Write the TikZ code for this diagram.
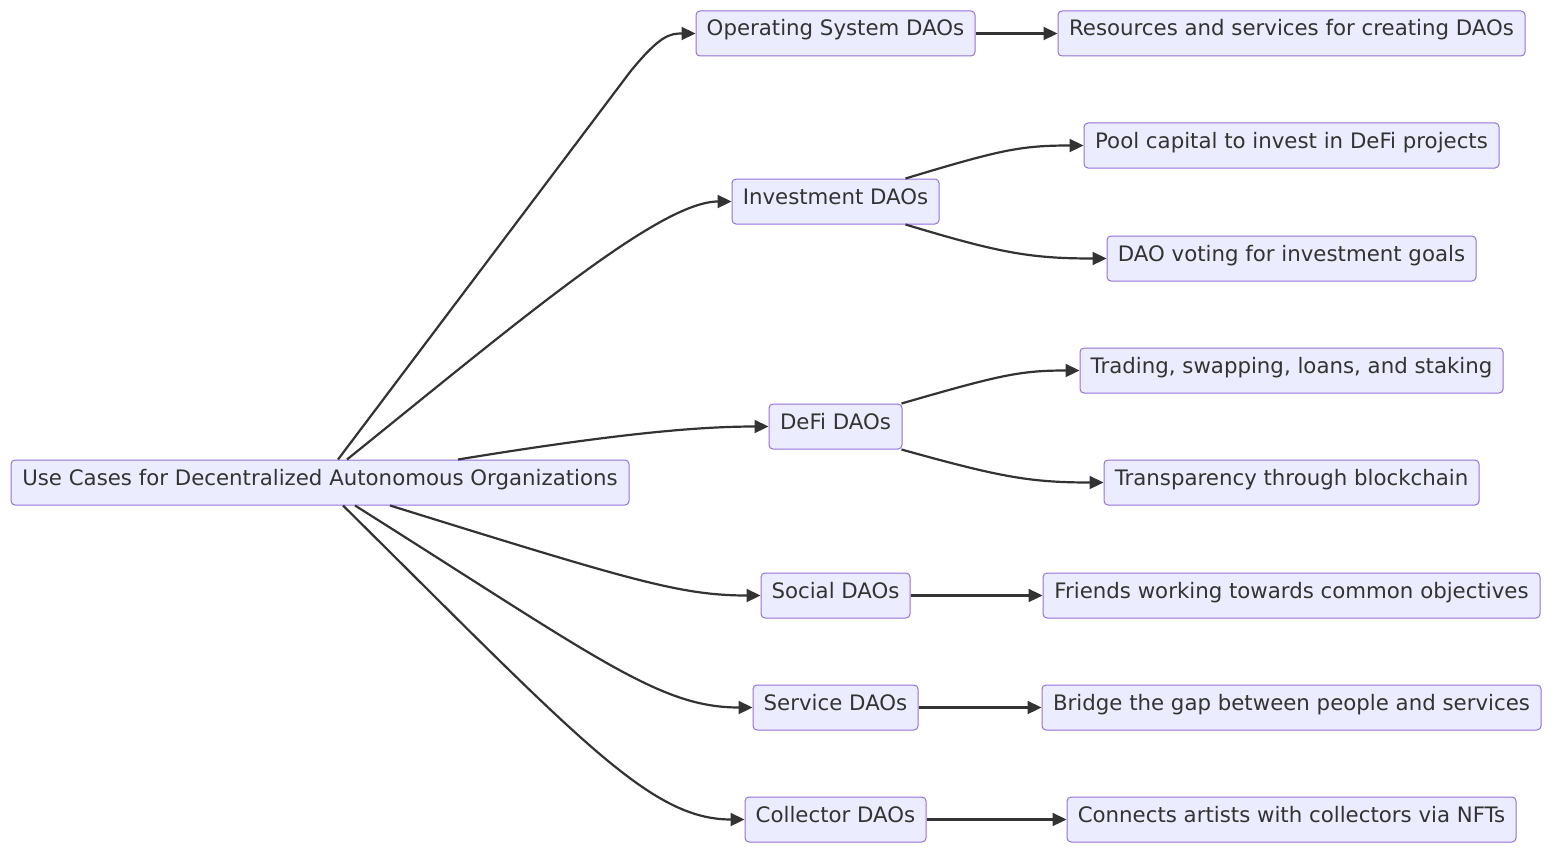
\documentclass[tikz,border=0pt]{standalone}
\usepackage{fontspec}
\setmainfont{DejaVu Sans}
\usetikzlibrary{arrows.meta}
\definecolor{nfill}{HTML}{ECECFF}
\definecolor{nstroke}{HTML}{9370DB}
\definecolor{ink}{HTML}{333333}
\begin{document}
\begin{tikzpicture}[x=1pt,y=-1pt,
  box/.style={draw=nstroke,fill=nfill,rounded corners=4,line width=1,text=ink,inner sep=0,minimum height=45,text depth=0.25em,text height=0.75em,font=\fontsize{21.3}{24}\selectfont},
  arr/.style={draw=ink,line width=2.2,-{Triangle[length=14,width=13]}}]
\useasboundingbox (0,0) rectangle (1568,864);
\node[box,minimum width=618] (root) at (320,482.5) {Use Cases for Decentralized Autonomous Organizations};
\node[box,minimum width=279] (os) at (835.5,33.5) {Operating System DAOs};
\node[box,minimum width=207] (inv) at (835.5,201.5) {Investment DAOs};
\node[box,minimum width=133] (defi) at (835.5,426.5) {DeFi DAOs};
\node[box,minimum width=149] (soc) at (835.5,595.5) {Social DAOs};
\node[box,minimum width=165] (ser) at (835.5,707.5) {Service DAOs};
\node[box,minimum width=181] (col) at (835.5,819.5) {Collector DAOs};
\node[box,minimum width=467] (res) at (1291.5,33.5) {Resources and services for creating DAOs};
\node[box,minimum width=415] (pool) at (1291.5,145.5) {Pool capital to invest in DeFi projects};
\node[box,minimum width=369] (vote) at (1291.5,258.5) {DAO voting for investment goals};
\node[box,minimum width=423] (trad) at (1291.5,370.5) {Trading, swapping, loans, and staking};
\node[box,minimum width=375] (tran) at (1291.5,482.5) {Transparency through blockchain};
\node[box,minimum width=497] (fri) at (1291.5,595.5) {Friends working towards common objectives};
\node[box,minimum width=499] (bri) at (1291.5,707.5) {Bridge the gap between people and services};
\node[box,minimum width=449] (con) at (1291.5,819.5) {Connects artists with collectors via NFTs};

\draw[arr] ([xshift=18]root.north) -- (630,72) .. controls (660,35) and (670,33.5) .. (os.west);
\draw[arr] ([xshift=27]root.north) .. controls (520,320) and (660,201.5) .. (inv.west);
\draw[arr] ([xshift=138]root.north) .. controls (620,433) and (700,426.5) .. (defi.west);
\draw[arr] ([xshift=70]root.south) .. controls (630,580) and (680,595.5) .. (soc.west);
\draw[arr] ([xshift=35]root.south) .. controls (600,660) and (660,707.5) .. (ser.west);
\draw[arr] ([xshift=23]root.south) .. controls (580,740) and (650,819.5) .. (col.west);
\draw[arr] (os) -- (res);
\draw[arr] ([xshift=70]inv.north) .. controls (1000,150) and (1020,145.5) .. (pool.west);
\draw[arr] ([xshift=70]inv.south) .. controls (1000,253) and (1030,258.5) .. (vote.west);
\draw[arr] ([xshift=66]defi.north) .. controls (1000,375) and (1020,370.5) .. (trad.west);
\draw[arr] ([xshift=66]defi.south) .. controls (1000,477) and (1030,482.5) .. (tran.west);
\draw[arr] (soc) -- (fri);
\draw[arr] (ser) -- (bri);
\draw[arr] (col) -- (con);
\end{tikzpicture}
\end{document}
